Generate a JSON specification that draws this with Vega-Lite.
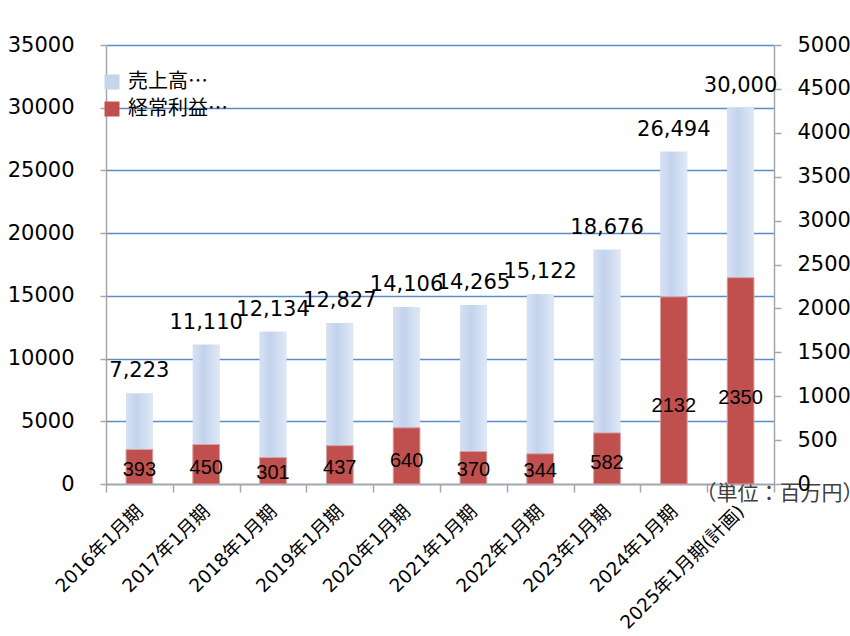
{
  "$schema": "https://vega.github.io/schema/vega-lite/v6.json",
  "width": 668,
  "height": 439,
  "autosize": {"type": "none"},
  "padding": {"left": 106, "top": 45, "right": 76, "bottom": 152},
  "background": "white",
  "config": {
    "font": "DejaVu Sans, Noto Sans CJK JP",
    "view": {"stroke": null}
  },
  "data": {
    "values": [
      {"period": "2016年1月期", "sales": 7223, "profit": 393},
      {"period": "2017年1月期", "sales": 11110, "profit": 450},
      {"period": "2018年1月期", "sales": 12134, "profit": 301},
      {"period": "2019年1月期", "sales": 12827, "profit": 437},
      {"period": "2020年1月期", "sales": 14106, "profit": 640},
      {"period": "2021年1月期", "sales": 14265, "profit": 370},
      {"period": "2022年1月期", "sales": 15122, "profit": 344},
      {"period": "2023年1月期", "sales": 18676, "profit": 582},
      {"period": "2024年1月期", "sales": 26494, "profit": 2132},
      {"period": "2025年1月期(計画)", "sales": 30000, "profit": 2350}
    ]
  },
  "encoding": {
    "x": {
      "field": "period",
      "type": "nominal",
      "sort": null,
      "scale": {"paddingInner": 0, "paddingOuter": 0},
      "axis": {
        "title": "（単位：百万円）",
        "titleX": 589,
        "titleY": 9,
        "titleAlign": "left",
        "titleBaseline": "middle",
        "titleFontSize": 21,
        "titleFontWeight": "normal",
        "titleColor": "#404040",
        "labelAngle": -45,
        "labelAlign": "right",
        "labelBaseline": "middle",
        "labelFontSize": 18.5,
        "labelColor": "#000000",
        "labelPadding": 16,
        "domainColor": "#a6a6a6",
        "domainWidth": 1.5,
        "tickColor": "#a6a6a6",
        "tickWidth": 1.5,
        "tickSize": 8,
        "tickBand": "extent"
      }
    }
  },
  "layer": [
    {
      "encoding": {
        "y": {
          "field": "sales",
          "type": "quantitative",
          "scale": {"domain": [0, 35000], "nice": false},
          "axis": {
            "orient": "left",
            "title": null,
            "values": [0, 5000, 10000, 15000, 20000, 25000, 30000, 35000],
            "format": "d",
            "labelFontSize": 21,
            "labelColor": "#000000",
            "labelPadding": 26,
            "tickSize": 6,
            "tickColor": "#a6a6a6",
            "tickWidth": 1.5,
            "domainColor": "#a6a6a6",
            "domainWidth": 1.5,
            "grid": true,
            "gridColor": "#5b8bc9",
            "gridWidth": 1.5
          }
        }
      },
      "layer": [
        {
          "mark": {"type": "bar", "width": {"band": 0.4}},
          "encoding": {
            "color": {
              "datum": "売上高…",
              "type": "nominal",
              "scale": {"domain": ["売上高…", "経常利益…"], "range": ["#c6d5ee", "#c0504d"]},
              "legend": {
                "orient": "none",
                "legendX": -4,
                "legendY": 27,
                "title": null,
                "symbolType": "square",
                "symbolSize": 225,
                "symbolStrokeWidth": 0,
                "labelFont": "Noto Sans CJK JP",
                "labelFontSize": 20,
                "labelColor": "#000000",
                "labelOffset": 6,
                "rowPadding": 7
              }
            }
          }
        },
        {
          "mark": {
            "type": "bar",
            "width": {"band": 0.4},
            "color": {
              "gradient": "linear",
              "x1": 0, "x2": 1, "y1": 0, "y2": 0,
              "stops": [
                {"offset": 0, "color": "#d6e1f3"},
                {"offset": 0.4, "color": "#c3d3ed"},
                {"offset": 1, "color": "#dfe8f6"}
              ]
            }
          }
        },
        {
          "mark": {"type": "text", "baseline": "middle", "dy": -22, "fontSize": 21, "font": "DejaVu Sans", "color": "#000000"},
          "encoding": {
            "text": {"field": "sales", "type": "quantitative", "format": ",d"}
          }
        }
      ]
    },
    {
      "encoding": {
        "y": {
          "field": "profit",
          "type": "quantitative",
          "scale": {"domain": [0, 5000], "nice": false},
          "axis": {
            "orient": "right",
            "title": null,
            "values": [0, 500, 1000, 1500, 2000, 2500, 3000, 3500, 4000, 4500, 5000],
            "format": "d",
            "labelFontSize": 21,
            "labelColor": "#000000",
            "labelPadding": 16,
            "tickSize": 7,
            "tickColor": "#a6a6a6",
            "tickWidth": 1.5,
            "domainColor": "#a6a6a6",
            "domainWidth": 1.5,
            "grid": false
          }
        }
      },
      "layer": [
        {
          "mark": {"type": "bar", "width": {"band": 0.4}, "stroke": "#d4a3a8", "strokeWidth": 1},
          "encoding": {
            "color": {"datum": "経常利益…", "type": "nominal"}
          }
        }
      ]
    },
    {
      "mark": {"type": "text", "baseline": "middle", "fontSize": 20, "font": "Liberation Sans Narrow, Liberation Sans", "color": "#000000"},
      "encoding": {
        "y": {
          "field": "profit",
          "type": "quantitative",
          "scale": {"domain": [0, 12000], "nice": false},
          "axis": null
        },
        "text": {"field": "profit", "type": "quantitative", "format": "d"}
      }
    }
  ],
  "resolve": {"scale": {"y": "independent"}}
}
